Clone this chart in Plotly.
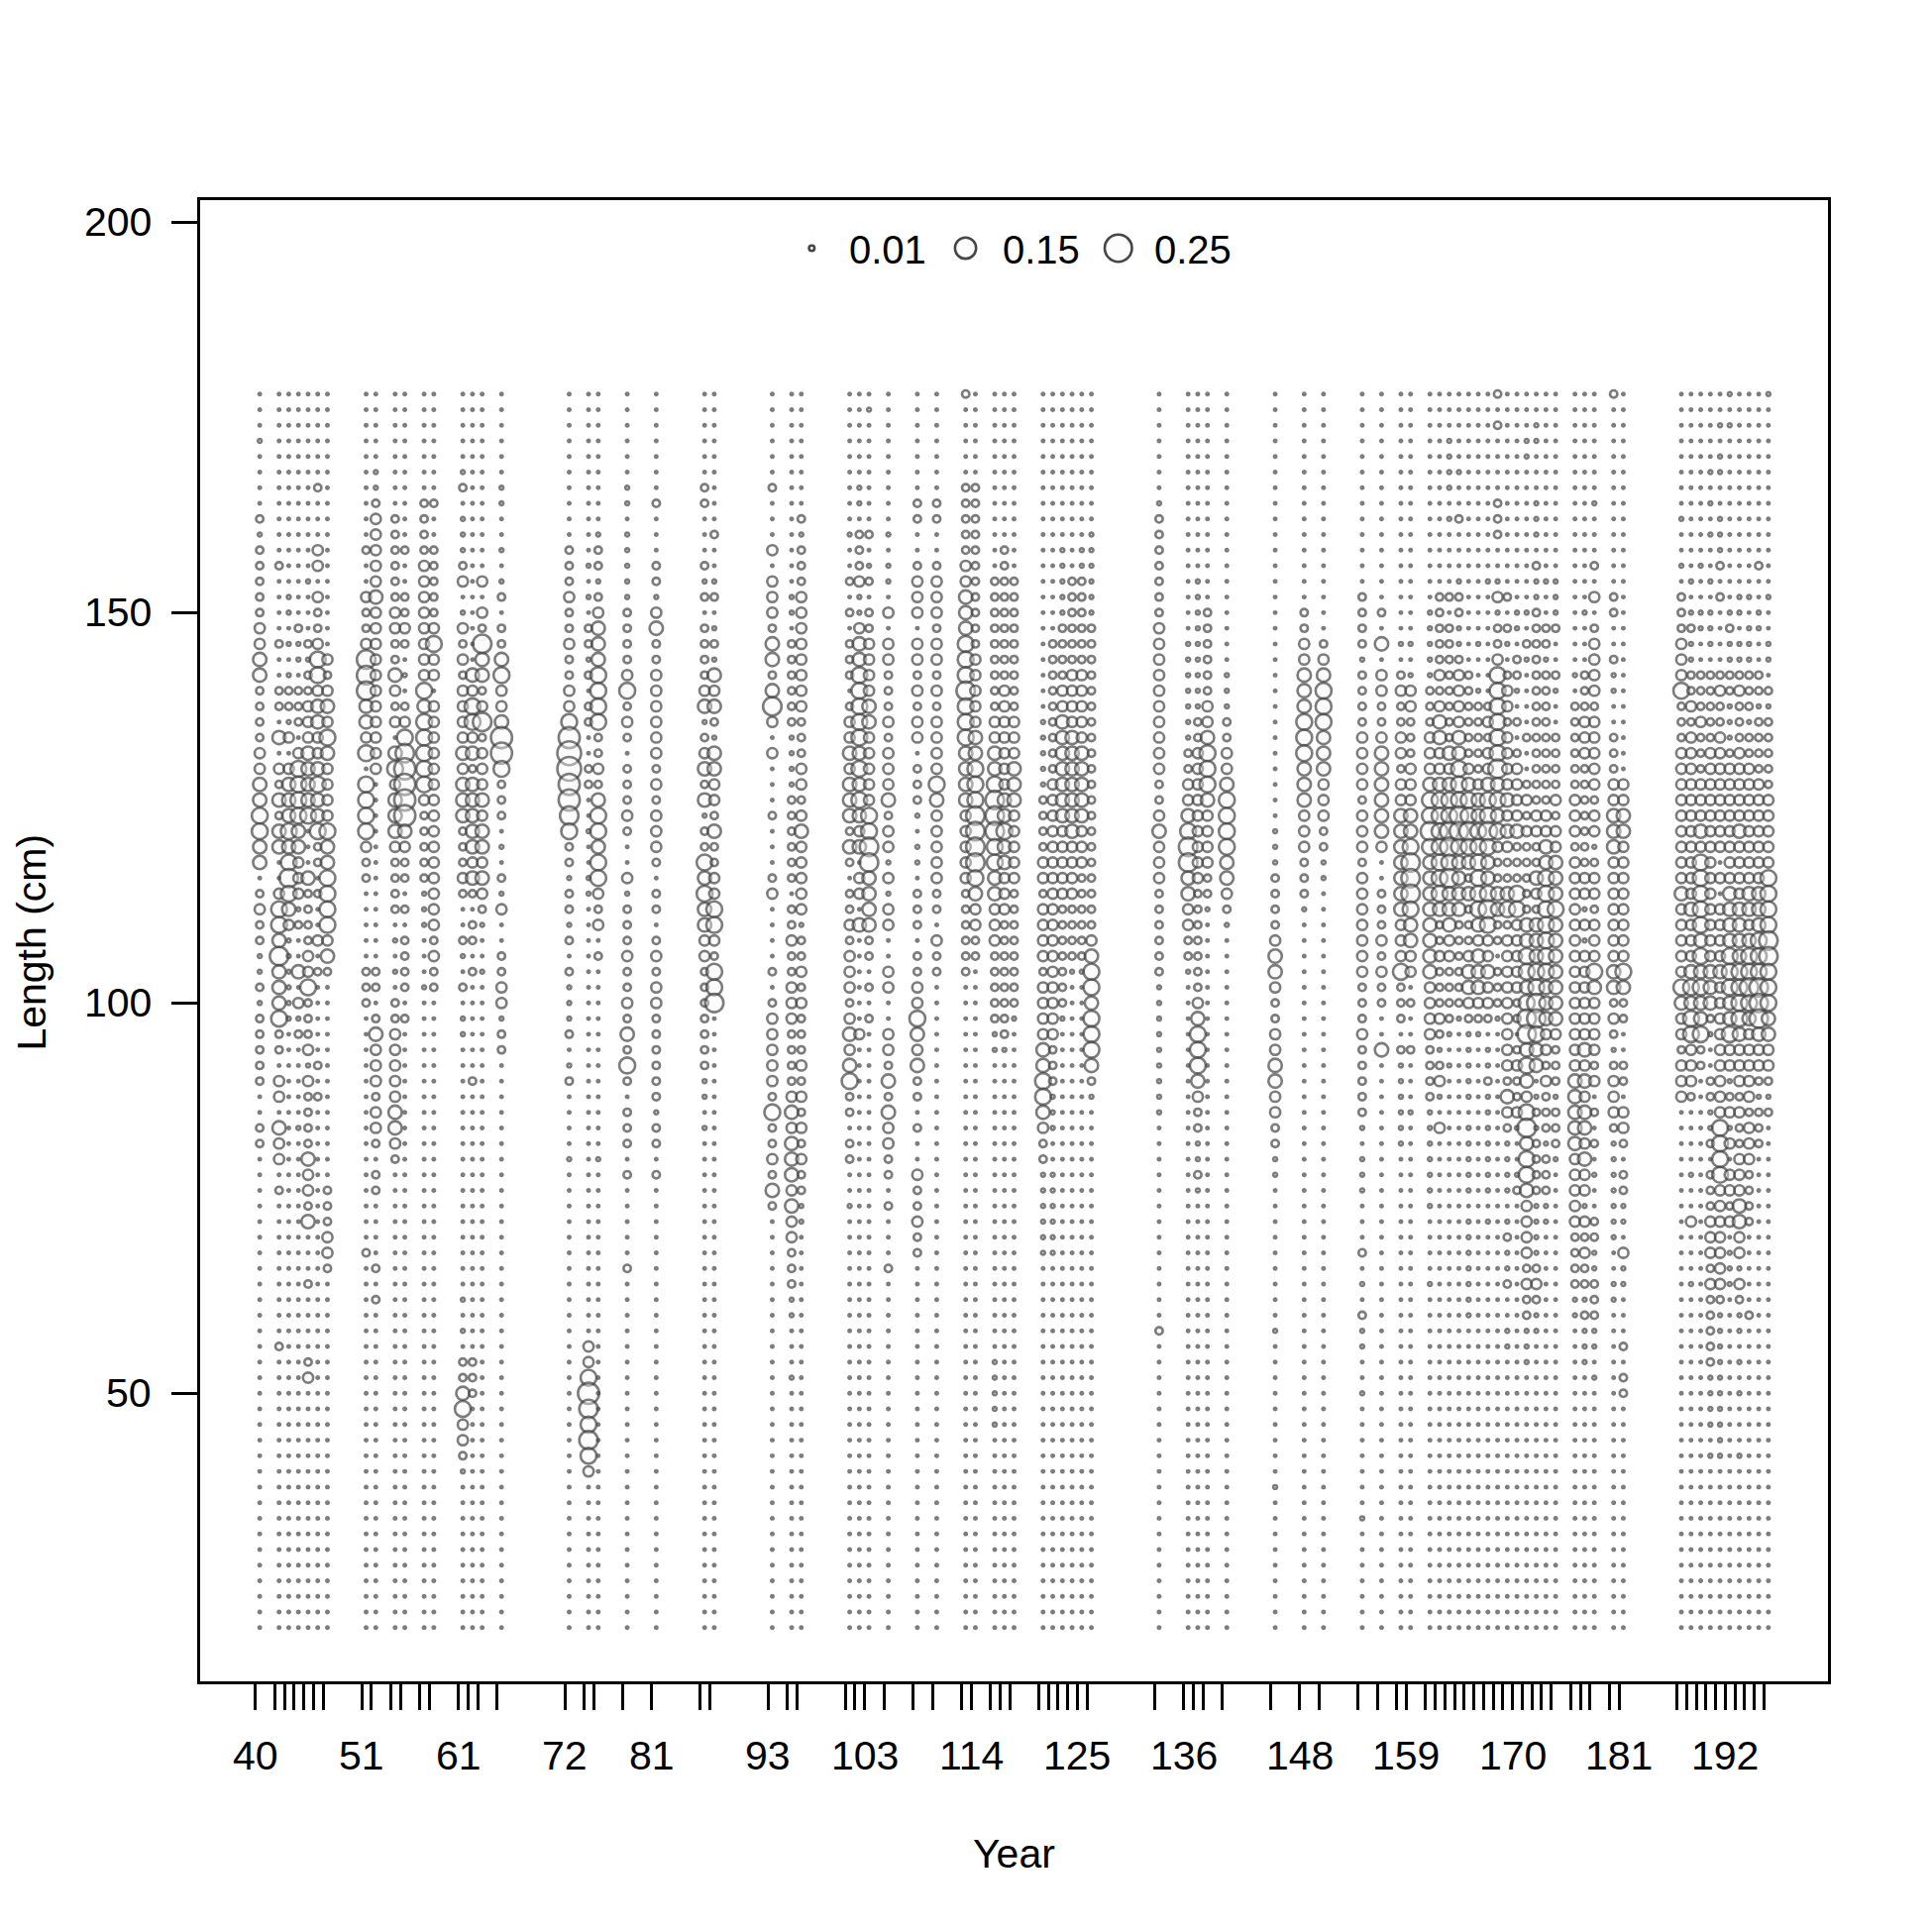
import numpy as np
import plotly.graph_objects as go

# ---------------- data ----------------
years = [40, 42, 43, 44, 45, 46, 47, 51, 52, 54, 55, 57, 58, 61, 62, 63, 65,
         72, 74, 75, 78, 81, 86, 87, 93, 95, 96, 101, 102, 103, 105, 108, 110,
         113, 114, 116, 117, 118, 121, 122, 123, 124, 125, 126,
         133, 136, 137, 138, 140, 145, 148, 150, 154, 156, 158, 159,
         161, 162, 163, 164, 165, 166, 167, 168, 169, 170, 171, 172, 173, 174,
         176, 177, 178, 180, 181,
         187, 188, 189, 190, 191, 192, 193, 194, 195, 196]

label_years = [40, 51, 61, 72, 81, 93, 103, 114, 125, 136, 148, 159, 170, 181, 192]
y_tick_values = [50, 100, 150, 200]
lengths = list(range(178, 18, -2))          # bins from 178 cm (top) down to 20 cm

# size code read per length bin (top -> bottom), one string per year
code_value = {'.': 0.0018, ':': 0.005, '1': 0.018, '2': 0.035, '3': 0.06, '4': 0.085,
              '5': 0.115, '6': 0.15, '7': 0.19, '8': 0.23, '9': 0.27}

comp_codes = [
    "...:....1: 1111122331 1112233443 3.1211::1: 11111..11. .......... .......... ..........",  # 40
    ".......... .1....1..1 1.3.213133 ..24435333 411.22.322 .1........ .1........ ..........",  # 42
    ".......... ...::.:.:1 1:2.233343 45432::::: :......... .......... .......... ..........",  # 43
    ".......... .....1::.1 11.2444433 222:1..3.2 :1.....:.. .......... .......... ..........",  # 44
    ".......... ..:...1:11 22233334.. .311112241 112:211113 2213...1.. ..12...... ..........",  # 45
    "......1... 22.2112442 3322343341 1.1..2.1.. ...1.1.... .......... .......... ..........",  # 46
    ".......... .......212 3243222243 34444231.. .......... .111221... .......... ..........",  # 47
    ".......... 1..2112555 3324.44442 11.....111 .......... .....1.... .......... ..........",  # 51
    ".....::122 2223222222 22222..... .......11. 132221221. 11....1.1. .......... ..........",  # 52
    "........11 1111221132 12.3423332 1111.:.:.1 1222223321 .......... .......... ..........",  # 54
    ".......... 1..1121.:. 1245666632 11.1.1111. 1......... .......... .......... ..........",  # 55
    ".......111 1222222224 3444442111 11:::...:. .......... .......... .......... ..........",  # 57
    ".......1.. 111112422. 2222222222 222221211. .......... .......... .......... ..........",  # 58
    ".....:1.:: :12.:21212 2223233311 121..1:.1. ::........ ........:. :.1134221: ..........",  # 61
    ".......... ........32 4423133333 231.11.1.. ....1..... .......... ..111..... ..........",  # 62
    ".......... ..2.215331 2512223233 2321:..:.. .......... .......... .......... ..........",  # 63
    "......::.. :.:1.11342 23664111.: .1:2..1122 :11....... .......... .......... ..........",  # 65
    ".......... 1112112112 2467766541 1:11:1.1:: :1.:1....: .......... .......... ..........",  # 72
    ".......... .:.:.11:1. 11..11..:. .::....... .......... .......... .224654542 ..........",  # 74
    ".........: 11:1233344 4411213443 44212.1... .........: .......... .......... ..........",  # 75
    "......::.: ::::111124 121.11121. .2:1112112 13141.111. 1.....1... .......... ..........",  # 78
    ".......1.. .11:231122 2222121222 1.11.12122 111111:11. 1......... .......... ..........",  # 81
    "......11.. .1:1.11112 3:12313:11 4343322111 1111::.:.. .......... .......... ..........",  # 86
    ".........1 ..:1.:1:32 31:3322131 1224421445 .......... .......... .......... ..........",  # 87
    "......1... 2.22213313 52.2...1.. .12....1.1 2222214112 131....... .......... ..........",  # 93
    ".......... ...::.1111 11::::1111 11.1121122 2111123233 32322111:: ...:...... ..........",  # 95
    "........1: 1112222222 2111221232 2222:11212 1112121212 11::...... .......... ..........",  # 96
    ".........: ..1.1.111. 1223233313 1.11212221 2323411.11 ..:....... .......... ..........",  # 101
    "......::.1 112::23344 4443434323 .22.3..... .2........ .......... .......... ..........",  # 102
    ".:.......1 .:1.112222 3322222445 5333311.1. 1......... .......... .......... ..........",  # 103
    ".........: .::.2.2211 1212223122 :2:22..22. .221313221 1.1...1... .......... ..........",  # 105
    ".......11. .1222.2212 122.111:.: :.111.1122 432311.1.. 211211.... .......... ..........",  # 108
    ".......11. .122212212 1222243222 2211.211.. .......... .......... .......... ..........",  # 110
    "1.....1111 1223334445 4443333222 22111111.. .......... .......... .......... ..........",  # 113
    "......1111 1111111222 2233444555 5432211... .......... .......... .......... ..........",  # 114
    ".......... ..11111111 1223345554 4332221111 1::....... .......... ..:::::... ..........",  # 116
    ".......... 1111111112 2222223343 3222111111 11:....... .......... .......... ..........",  # 117
    ".......... ..11111111 1222333222 2211111111 :......... .......... .......... ..........",  # 118
    ".......... .......... .:::::1111 2212222122 2233443211 ::::::.... .......... ..........",  # 121
    ".......... ......1111 1111122222 2222222222 22111:::.. ::::::.... .......... ..........",  # 122
    ".......... :::::11112 2333333322 2221111111 :......... .......... .......... ..........",  # 123
    ".......... ..11111122 2233333332 2221111:.. .......... .......... .......... ..........",  # 124
    ".......... ::11111122 2223333322 2111111:.. .......... .......... .......... ..........",  # 125
    ".........: :::::11111 1111111111 1111123443 44431:.... .......... .......... ..........",  # 126
    ".......:11 1111122222 2222211232 22111111:: :::::::... .......... 1......... ..........",  # 133
    ".......... ......:::: :::1122345 5332211:.. .......... .......... .......... ..........",  # 136
    ".......... ..:::::::: :112222222 2211111112 34443211:: 1:........ .......... ..........",  # 137
    ".......... ....111111 2234443222 211:...... .......... .......... .......... ..........",  # 138
    ".......... ........:: :112234444 3321:..... .......... .......... .......... ..........",  # 140
    ".......... .......... ........:: :111123321 122332211: :......... :......... :.........",  # 145
    ".......... ....112233 3444333222 111:...... .......... .......... .......... ..........",  # 148
    ".......... ......1234 4433322211 ::........ .......... .......... .......... ..........",  # 150
    ".......... ...1111:11 1122221222 1222222211 1211111:.: ::...1.:.1 ::..:..... ..:.......",  # 154
    ".......... ....1.3.22 1123333332 ..11121211 ..3....... .......... .......... ..........",  # 156
    ".......... ......:.12 1122122333 3333222411 1.1::::::. .......... .......... ..........",  # 158
    ".......... ......:.:2 2111222334 55543322.1 ..1...:... .......... .......... ..........",  # 159
    ".......... ....:::::1 1122234454 3333333322 221111:::: :::....:.. .......... ..........",  # 161
    ".......... ...1111121 2332234444 4443112111 21:12:.2.. .......... .......... ..........",  # 162
    "...::::.:. ...1.11111 1113234455 4533322111 1:.:...... .......... .......... ..........",  # 163
    ".....:..1. ..:11::122 2233444554 3333111111 :......... .......... .......... ..........",  # 164
    ".......... ........11 1111234454 3131112332 1:::::.::: ::.::::::: .......... ..........",  # 165
    ".......... ......:..: 1111123344 4444323332 1:........ .......... .......... ..........",  # 166
    ".......... ..:....... 1212234454 3345422322 1.::1::::: ::.:...... .......... ..........",  # 167
    "1.1....111 ..:2:11244 4444534342 113311.111 :......... .......... .......... ..........",  # 168
    ".......... ...1.1:.12 2122223232 1134122222 22221321:: ::.:1::1.. ::........ ..........",  # 169
    ".......... ....::.11: .1.1222231 1144222221 1.12112:.. :1........ .......... ..........",  # 170
    "...::..... ....:.1:.. ..1..12121 1111334434 5534324534 4322221211 :::....... ..........",  # 171
    "..::...::: .1::111111 1111111221 1321333445 5433.:1:11 11::::121: :......... ..........",  # 172
    ".......... ..:..11:11 1111111223 3444444433 32212111:1 11::...... .......... ..........",  # 173
    ".......... ..:::1..1: ..11112122 3334333333 32111:111: .......... .......... ..........",  # 174
    ".......... ........:. 1111112221 2222222222 2222333332 22221111:: .......... ..........",  # 176
    ".......... ....:...11 1222111111 122:2:2222 2232323323 22:21211:1 :::....... ..........",  # 177
    ".......:.. .1.2.12222 122222122: 1221222432 22212.1.1. :..11::111 ::.:...... ..........",  # 178
    "1......... ...11..1:: ..11122333 2222222331 21:12221:: :::::..::. .......... ..........",  # 180
    ".......... .......... .....22332 2222222431 1..11.221. 11::.2::.. .1.11..... ..........",  # 181
    "........:. .:.1112224 1112222222 2232222243 221222.... .......... .......... ..........",  # 187
    ".......... ..:.:1::11 2122222222 2223222343 442221.... :..2...:.. .......... ..........",  # 188
    ".......... .:..::..11 1211122232 4444434343 3411...... .......... .......... ..........",  # 189
    ".....:.:.: ..:.:::.11 1112222222 2222222333 1:..11::1. 1112221211 111::::.:. ..........",  # 190
    "..:.::..:: :1.1....12 1122222222 .2.2222322 2222222444 422222221: :::::::::. ..........",  # 191
    ":.:....... ....:1::11 :::1222222 2233334443 3422:12:2. 2212.:::.. .......... ..........",  # 192
    ".......... ...::.::12 1112222232 2223333444 4322212112 223322:21: :.:.:...:. ..........",  # 193
    ".......... ...:.:::11 1:11222222 2233234454 3222221222 1111.....1 .......... ..........",  # 194
    ".......... .1..::..11 :111122222 2233344455 53221:111. .......... .......... ..........",  # 195
    ":......... ...:..::.1 :111112222 2444455444 33221:1... .......... .......... ..........",  # 196
]

legend_values = [0.01, 0.15, 0.25]

# ---------------- layout constants ----------------
W = H = 1950
OFF = 8                      # page offset of the plot div (body margin)
BOX_L, BOX_R, BOX_T, BOX_B = 201.5, 1845.5, 201.5, 1697.5   # target page px of plot box
ML, MT = BOX_L - OFF, BOX_T - OFF
MR, MB = W - (BOX_R - OFF), H - (BOX_B - OFF)
PW, PH = BOX_R - BOX_L, BOX_B - BOX_T
X_RANGE = [34.287, 202.61]
Y_RANGE = [13.11, 202.84]
SEASON_OFFSET = 0.45
D_SCALE = 55.0
LINE_W = 2.6
STROKE = "rgb(70,70,70)"
FILL = "rgba(250,250,250,0.55)"
FONT = "Liberation Sans, Arial, Helvetica, sans-serif"
FS = 41


def px_x(page_x):
    return (page_x - BOX_L) / PW


def px_y(page_y):
    return 1 - (page_y - BOX_T) / PH


xs, ys, vals = [], [], []
for yr, codes in zip(years, comp_codes):
    s = codes.replace(" ", "")
    s = (s + "." * len(lengths))[:len(lengths)]
    for ln, c in zip(lengths, s):
        xs.append(yr + SEASON_OFFSET)
        ys.append(ln)
        vals.append(code_value[c])
sizes = D_SCALE * np.sqrt(np.array(vals))

fig = go.Figure()
fig.add_trace(go.Scatter(
    x=xs, y=ys, mode="markers", hoverinfo="skip", showlegend=False,
    marker=dict(size=sizes, sizemode="diameter", symbol="circle",
                color=FILL, line=dict(color=STROKE, width=LINE_W)),
))

annotations = []
for yv in label_years:
    annotations.append(dict(x=yv, xref="x", y=0, yref="paper", yshift=-75,
                            text=str(yv), showarrow=False, xanchor="center",
                            yanchor="middle", font=dict(family=FONT, size=FS, color="black")))
for yv in y_tick_values:
    annotations.append(dict(x=0, xref="paper", y=yv, yref="y", xshift=-47,
                            text=str(yv), showarrow=False, xanchor="right",
                            yanchor="middle", font=dict(family=FONT, size=FS, color="black")))
annotations.append(dict(x=px_x(1023.5), xref="paper", y=px_y(1871.6), yref="paper",
                        text="Year", showarrow=False, xanchor="center", yanchor="middle",
                        font=dict(family=FONT, size=FS, color="black")))
annotations.append(dict(x=px_x(31), xref="paper", y=px_y(951), yref="paper",
                        text="Length (cm)", showarrow=False, textangle=-90,
                        xanchor="center", yanchor="middle",
                        font=dict(family=FONT, size=FS, color="black")))

# legend: bubbles as pixel-sized shapes, labels as text
leg_cx = [819.2, 974.5, 1128.8]
leg_tx = [854.5, 1009.5, 1163.5]
shapes = []
for v, cx, tx in zip(legend_values, leg_cx, leg_tx):
    r = D_SCALE * np.sqrt(v) / 2
    shapes.append(dict(type="circle", xref="paper", yref="paper",
                       xsizemode="pixel", ysizemode="pixel",
                       xanchor=px_x(cx), yanchor=px_y(250), x0=-r, x1=r, y0=-r, y1=r,
                       line=dict(color=STROKE, width=LINE_W), fillcolor=FILL))
    annotations.append(dict(x=px_x(tx), xref="paper", y=px_y(251.7), yref="paper",
                            text=f"{v:.2f}", showarrow=False, xanchor="left", yanchor="middle",
                            font=dict(family=FONT, size=FS - 1, color="black")))

axis_common = dict(showgrid=False, zeroline=False, showline=True, mirror=True,
                   linecolor="black", linewidth=2.5, ticks="outside", ticklen=26,
                   tickwidth=2.5, tickcolor="black", showticklabels=False)

fig.update_layout(
    width=W, height=H, autosize=False,
    margin=dict(l=ML, r=MR, t=MT, b=MB, pad=0),
    paper_bgcolor="white", plot_bgcolor="white",
    xaxis=dict(range=X_RANGE, tickmode="array", tickvals=years, **axis_common),
    yaxis=dict(range=Y_RANGE, tickmode="array", tickvals=y_tick_values, **axis_common),
    annotations=annotations, shapes=shapes,
)

fig.write_html("out.html")
